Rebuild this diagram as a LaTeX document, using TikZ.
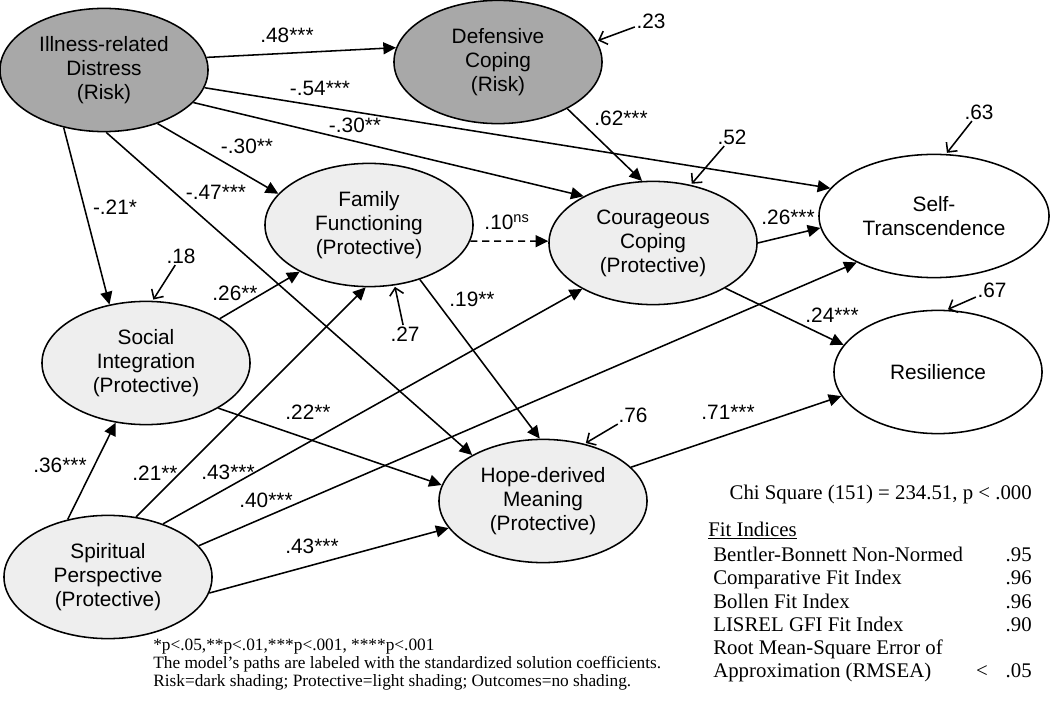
\documentclass[tikz,border=0pt]{standalone}
\usepackage{fontspec}
\setmainfont{Liberation Serif}
\setsansfont{Liberation Sans}
\usetikzlibrary{shapes.geometric,arrows.meta}
\definecolor{riskgray}{HTML}{A8A8A8}
\definecolor{protgray}{HTML}{EEEEEE}
\begin{document}
\begin{tikzpicture}[x=0.025cm,y=-0.025cm,
  ell/.style={ellipse,draw,line width=1.1pt,minimum width=5.2cm,minimum height=3.08cm,
    inner sep=0pt,align=center,font=\sffamily\fontsize{14.8}{17}\selectfont},
  risk/.style={ell,fill=riskgray},
  prot/.style={ell,fill=protgray},
  outc/.style={ell},
  eff/.style={line width=1.1pt,-{Triangle[length=9pt,width=8.5pt]}},
  err/.style={line width=1.1pt,-{Straight Barb[length=5pt,width=10pt]},shorten >=1pt},
  coef/.style={inner sep=1pt,font=\sffamily\fontsize{14.8}{17}\selectfont},
  note/.style={inner sep=0pt,anchor=west,text height=8pt,text depth=2.5pt,font=\fontsize{12.3}{13}\selectfont},
  stat/.style={inner sep=0pt,text height=9.5pt,text depth=3pt,font=\fontsize{14.8}{16}\selectfont}]
\useasboundingbox (0,0) rectangle (1050,701);
\node[risk] (idr) at (104,70) {Illness-related\\Distress\\(Risk)};
\node[risk] (dc) at (498,62) {Defensive\\Coping\\(Risk)};
\node[prot] (ff) at (369,225) {Family\\Functioning\\(Protective)};
\node[prot] (cc) at (653,243) {Courageous\\Coping\\(Protective)};
\node[prot] (si) at (146,363) {Social\\Integration\\(Protective)};
\node[prot] (sp) at (108,577) {Spiritual\\Perspective\\(Protective)};
\node[prot] (hm) at (543,501) {Hope-derived\\Meaning\\(Protective)};
\node[outc,minimum width=5.75cm] (st) at (934,216) {Self-\\Transcendence};
\node[outc] (re) at (938,372) {Resilience};

\draw[eff] (idr.7) -- (dc.172);
\draw[eff] (idr.-10) -- (st.165);
\draw[eff] (idr.-20) -- (cc.146);
\draw[eff] (idr.-45) -- (ff.161);
\draw[eff] (idr.-88) -- (hm.147);
\draw[eff] (idr.-125) -- (si.122);
\draw[eff] (dc.-34) -- (cc.100);
\draw[eff,dash pattern=on 5pt off 3.5pt] (ff.-9) -- (cc.179);
\draw[eff] (ff.-47) -- (hm.93);
\draw[eff] (si.31) -- (ff.-146);
\draw[eff] (si.-32) -- (hm.171);
\draw[eff] (sp.125) -- (si.-117);
\draw[eff] (sp.65) -- (ff.-93);
\draw[eff] (sp.44) -- (cc.-147);
\draw[eff] (sp.19) -- (st.-149);
\draw[eff] (sp.-9) -- (hm.-164);
\draw[eff] (cc.0) -- (st.-174);
\draw[eff] (cc.-32) -- (re.164);
\draw[eff] (hm.21) -- (re.-166);

\node[coef] (c1) at (287,35) {.48***};
\node[coef] (c2) at (320,88) {-.54***};
\node[coef] (c3) at (355,125) {-.30**};
\node[coef] (c4) at (247,146) {-.30**};
\node[coef] (c5) at (216,192) {-.47***};
\node[coef] (c6) at (115,207) {-.21*};
\node[coef] (c7) at (621,118) {.62***};
\node[coef] (c8) at (507,222) {.10\textsuperscript{ns}};
\node[coef] (c9) at (472,299) {.19**};
\node[coef] (c10) at (235,293) {.26**};
\node[coef] (c11) at (308,412) {.22**};
\node[coef] (c12) at (60,465) {.36***};
\node[coef] (c13) at (155,473) {.21**};
\node[coef] (c14) at (228,472) {.43***};
\node[coef] (c15) at (266,500) {.40***};
\node[coef] (c16) at (312,546) {.43***};
\node[coef] (c17) at (788,217) {.26***};
\node[coef] (c18) at (832,315) {.24***};
\node[coef] (c19) at (728,412) {.71***};

\node[coef] (e23) at (651,21) {.23};
\node[coef] (e52) at (732,137) {.52};
\node[coef] (e63) at (979,112) {.63};
\node[coef] (e67) at (992,290) {.67};
\node[coef] (e18) at (181,256) {.18};
\node[coef] (e27) at (405,334) {.27};
\node[coef] (e76) at (633,415) {.76};
\draw[err] (e23) -- (dc.12);
\draw[err] (e52) -- (cc.57);
\draw[err] (e63) -- (st.79);
\draw[err] (e67) -- (re.82);
\draw[err] (e18) -- (si.84);
\draw[err] (e27) -- (ff.-67);
\draw[err] (e76) -- (hm.54);

\node[note] (n1) at (153,647) {*p<.05,**p<.01,***p<.001, ****p<.001};
\node[note] (n2) at (153,665) {The model’s paths are labeled with the standardized solution coefficients.};
\node[note] (n3) at (153,683) {Risk=dark shading; Protective=light shading; Outcomes=no shading.};

\node[stat,anchor=east] (chi) at (1032,495) {Chi Square (151) = 234.51, p < .000};
\node[stat,anchor=west] (fit) at (708,532) {\underline{Fit Indices}};
\node[stat,anchor=west] (f1) at (713,557) {Bentler-Bonnett Non-Normed};
\node[stat,anchor=west] (f2) at (713,580) {Comparative Fit Index};
\node[stat,anchor=west] (f3) at (713,604) {Bollen Fit Index};
\node[stat,anchor=west] (f4) at (713,627) {LISREL GFI Fit Index};
\node[stat,anchor=west] (f5) at (713,650) {Root Mean-Square Error of};
\node[stat,anchor=west] (f6) at (713,673) {Approximation (RMSEA)};
\node[stat,anchor=east] (v1) at (1032,557) {.95};
\node[stat,anchor=east] (v2) at (1032,580) {.96};
\node[stat,anchor=east] (v3) at (1032,604) {.96};
\node[stat,anchor=east] (v4) at (1032,627) {.90};
\node[stat] (lt) at (982,673) {<};
\node[stat,anchor=east] (v6) at (1032,673) {.05};
\end{tikzpicture}
\end{document}
